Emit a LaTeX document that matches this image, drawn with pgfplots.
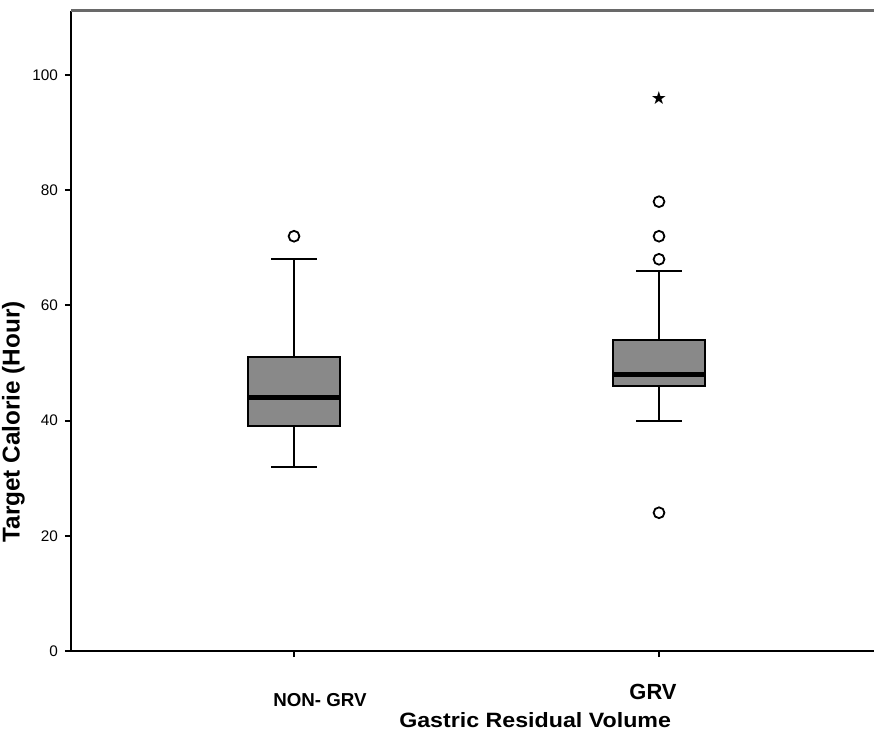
\documentclass[border=0pt]{standalone}
\usepackage{fontspec}
\setmainfont{Liberation Sans}
\newfontfamily\dejavu{DejaVu Sans}
\usepackage{pgfplots}
\pgfplotsset{compat=1.18}
\definecolor{boxgray}{RGB}{137,137,137}
\definecolor{topgray}{RGB}{105,105,105}
% box plot summaries: position, lower whisker, Q1, median, Q3, upper whisker
% NON- GRV: 1, 32, 39, 44, 51, 68 ; outlier 72
% GRV:      2, 40, 46, 48, 54, 66 ; outliers 24, 68, 72, 78 ; extreme 96
\begin{document}
\begin{tikzpicture}
\begin{axis}[
  scale only axis, width=401.5bp, height=320bp,
  xmin=0.389, xmax=2.589, ymin=0, ymax=111.1,
  axis x line*=bottom, axis y line*=left,
  axis line style={line width=1bp, -, black},
  xtick={1,2},
  xticklabels={{\fontsize{9.4}{10}\selectfont\bfseries\hspace*{26bp}NON- GRV},
               {\raisebox{3.5bp}{\fontsize{11}{12}\selectfont\bfseries GRV\hspace*{6bp}}}},
  ytick={0,20,40,60,80,100},
  tick align=outside, major tick length=3bp,
  tick style={line width=1bp, black},
  /pgf/number format/assume math mode=true,
  yticklabel style={font=\fontsize{7.7}{9}\selectfont},
  xticklabel style={anchor=base, yshift=-24.5bp},
  xlabel={\scalebox{1.12}[1]{Gastric Residual Volume}},
  xlabel style={font=\bfseries\fontsize{10.4}{12}\selectfont, at={(axis description cs:0.578,-0.119)}, anchor=base},
  ylabel={Target Calorie (Hour)},
  ylabel style={font=\bfseries\fontsize{12.2}{14}\selectfont, at={(axis description cs:-0.0716,0.358)}, anchor=center},
  clip=false,
  whisk/.style={black, line width=1bp, no marks},
  outl/.style={only marks, mark=o, mark size=2.7bp, mark options={solid, line width=0.9bp, draw=black, fill=white}},
]
\draw[topgray, line width=1.5bp] (rel axis cs:0,1) -- (rel axis cs:1,1);
% ---- NON- GRV ----
\addplot[whisk] coordinates {(1,51) (1,68)};
\addplot[whisk] coordinates {(1,39) (1,32)};
\addplot[whisk] coordinates {(0.937,68) (1.063,68)};
\addplot[whisk] coordinates {(0.937,32) (1.063,32)};
\addplot[fill=boxgray, draw=black, line width=0.9bp] coordinates {(0.874,39) (1.126,39) (1.126,51) (0.874,51)} -- cycle;
\addplot[black, line width=2.2bp, no marks] coordinates {(0.874,44) (1.126,44)};
\addplot[outl] coordinates {(1,72)};
% ---- GRV ----
\addplot[whisk] coordinates {(2,54) (2,66)};
\addplot[whisk] coordinates {(2,46) (2,40)};
\addplot[whisk] coordinates {(1.937,66) (2.063,66)};
\addplot[whisk] coordinates {(1.937,40) (2.063,40)};
\addplot[fill=boxgray, draw=black, line width=0.9bp] coordinates {(1.874,46) (2.126,46) (2.126,54) (1.874,54)} -- cycle;
\addplot[black, line width=2.2bp, no marks] coordinates {(1.874,48) (2.126,48)};
\addplot[outl] coordinates {(2,24) (2,68) (2,72) (2,78)};
\addplot[only marks, mark=text, text mark={\dejavu\fontsize{9}{9}\selectfont ★}]
  coordinates {(2,96)};
\end{axis}
\pgfresetboundingbox
\path[use as bounding box] ([shift={(-35.5bp,-40bp)}]current axis.south west) rectangle ([shift={(0bp,5.5bp)}]current axis.north east);
\end{tikzpicture}
\end{document}
